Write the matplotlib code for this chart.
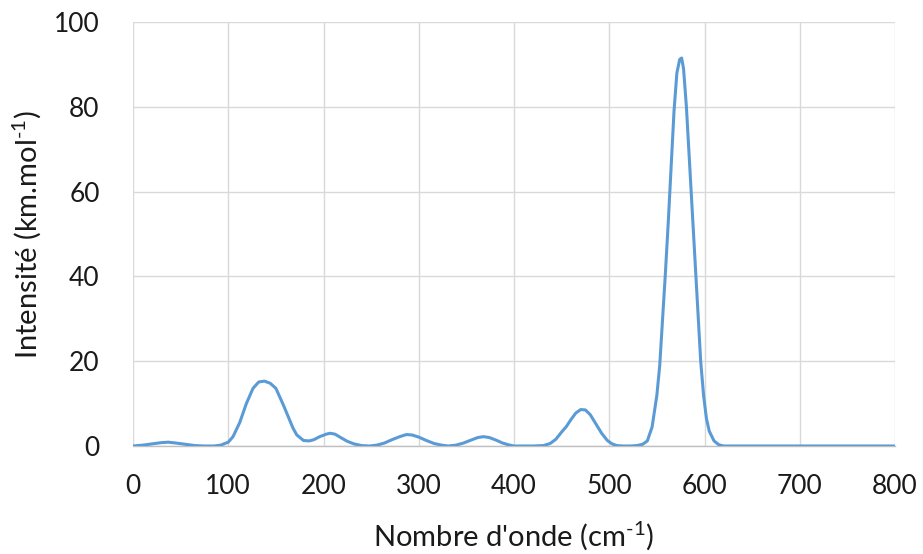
import matplotlib
matplotlib.use("Agg")
import matplotlib.pyplot as plt

plt.rcParams['font.family'] = ['Lato', 'DejaVu Sans']
plt.rcParams['mathtext.fontset'] = 'custom'
plt.rcParams['mathtext.rm'] = 'Lato'
plt.rcParams['mathtext.default'] = 'regular'

wavenumber = [0, 10, 20, 30, 37, 45, 55, 65, 75, 85, 92, 100, 105, 112, 119, 126, 132, 138, 144,
              150, 154, 158, 163, 168, 172, 179, 185, 190, 196, 203, 207, 212, 218, 225, 232,
              240, 248, 256, 264, 272, 280, 287, 293, 300, 308, 316, 324, 331, 339, 347, 355,
              362, 368, 374, 381, 388, 394, 400, 410, 420, 431, 438, 444, 450, 455, 460, 465,
              470, 475, 480, 486, 492, 498, 503, 508, 515, 522, 529, 535, 540, 545, 550, 553,
              556, 559, 562, 565, 568, 571, 574, 576, 578, 581, 584, 587, 590, 593, 596, 599,
              602, 605, 610, 615, 620, 630, 650, 700, 750, 800]
intensity = [0.0, 0.2, 0.5, 0.8, 0.9, 0.7, 0.4, 0.1, 0.0, 0.0, 0.2, 0.9, 2.2, 5.5, 10.0, 13.6, 15.1,
             15.3, 14.8, 13.6, 11.6, 9.6, 6.9, 4.2, 2.6, 1.3, 1.2, 1.5, 2.2, 2.8, 3.0, 2.8, 2.0,
             1.1, 0.5, 0.1, 0.0, 0.2, 0.7, 1.5, 2.2, 2.7, 2.6, 2.1, 1.3, 0.6, 0.2, 0.0, 0.2, 0.7,
             1.4, 2.0, 2.2, 2.0, 1.4, 0.7, 0.3, 0.0, 0.0, 0.0, 0.1, 0.6, 1.6, 3.3, 4.6, 6.3, 7.8,
             8.6, 8.5, 7.4, 5.2, 3.0, 1.3, 0.5, 0.1, 0.0, 0.0, 0.1, 0.4, 1.2, 4.5, 12.0, 19.0,
             30.0, 41.0, 53.0, 66.0, 79.0, 88.0, 91.2, 91.5, 89.0, 80.0, 68.0, 56.0, 44.0, 32.0,
             20.0, 12.0, 6.5, 3.5, 1.2, 0.3, 0.0, 0.0, 0.0, 0.0, 0.0, 0.0]

x_ticks = [0, 100, 200, 300, 400, 500, 600, 700, 800]
y_ticks = [0, 20, 40, 60, 80, 100]

fig = plt.figure(figsize=(9.23, 5.54), dpi=100)
ax = fig.add_axes([133/923, 1 - 446/554, 762/923, 424/554])

ax.plot(wavenumber, intensity, color='#5B9BD5', linewidth=2.2, solid_joinstyle='round',
        solid_capstyle='round', zorder=3)

ax.set_xlim(0, 800)
ax.set_ylim(0, 100)
ax.set_xticks(x_ticks)
ax.set_yticks(y_ticks)
ax.grid(True, color='#d9d9d9', linewidth=1.0, zorder=0)
ax.set_axisbelow(True)
for side in ['left', 'right', 'top']:
    ax.spines[side].set_visible(False)
ax.spines['bottom'].set_color('#bfbfbf')
ax.spines['bottom'].set_linewidth(1.0)
ax.tick_params(axis='both', length=0, labelsize=19, colors='#1a1a1a')
ax.tick_params(axis='x', pad=20)
ax.tick_params(axis='y', pad=24)

ax.set_xlabel("Nombre d'onde (cm$^{\u2010 1}$)", fontsize=21, labelpad=15, color='#1a1a1a')
ax.set_ylabel("Intensité (km.mol$^{\u2010 1}$)", fontsize=21, labelpad=8, color='#1a1a1a')

fig.savefig('out.png', dpi=100, facecolor='white')
